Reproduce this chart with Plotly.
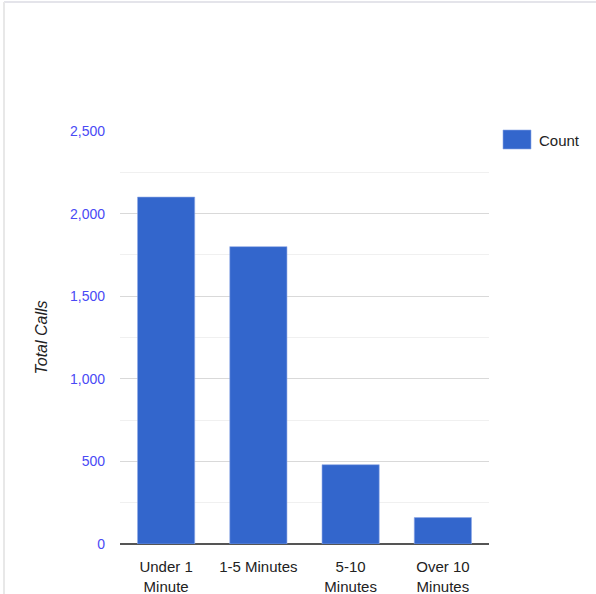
import plotly.graph_objects as go

categories = ["Under 1<br>Minute", "1-5 Minutes", "5-10<br>Minutes", "Over 10<br>Minutes"]
counts = [2100, 1800, 480, 160]
tick_vals = [0, 500, 1000, 1500, 2000, 2500]
tick_text = ["0", "500", "1,000", "1,500", "2,000", "2,500"]
series_name = "Count"

L, R, T, B = 120, 107, 131, 50
W, H = 596, 594
pw = W - L - R
ph = H - T - B

def px(x):
    return (x - L) / pw

def py(y):
    return (H - B - y) / ph

fig = go.Figure()
fig.add_trace(go.Bar(
    x=categories, y=counts, name=series_name,
    marker=dict(color="#3366cc", line=dict(color="#8fa8e6", width=0.6)),
    width=0.62, showlegend=False,
))

fig.update_layout(
    width=W, height=H,
    margin=dict(l=L, r=R, t=T, b=B, autoexpand=False),
    paper_bgcolor="white", plot_bgcolor="white",
    font=dict(family="Liberation Sans, Arial, sans-serif", size=14, color="#222222"),
    showlegend=False,
)
fig.update_xaxes(
    showgrid=False, showline=False, zeroline=False, ticks="",
    tickfont=dict(size=15, color="#222222"),
    ticklabelstandoff=12, automargin=False,
)
fig.update_yaxes(
    range=[0, 2500], tickvals=tick_vals, ticktext=tick_text,
    showgrid=True, gridcolor="#d9d9d9", gridwidth=1,
    minor=dict(dtick=250, showgrid=True, gridcolor="#f0f0f0", gridwidth=1),
    zeroline=True, zerolinecolor="#555555", zerolinewidth=2,
    showline=False, ticks="",
    tickfont=dict(size=14, color="#4a4af5"),
    ticklabelstandoff=14, automargin=False,
    title=dict(text="<i>Total Calls</i>", font=dict(size=16, color="#222222"), standoff=18),
)

# legend (drawn manually to match the wide swatch)
fig.add_shape(type="rect", xref="paper", yref="paper",
              x0=px(503), x1=px(531), y0=py(149), y1=py(130),
              fillcolor="#3366cc", line=dict(color="#8fa8e6", width=0.6))
fig.add_annotation(xref="paper", yref="paper", x=px(537), y=py(140),
                   text=series_name, showarrow=False, xanchor="left", yanchor="middle",
                   font=dict(size=15, color="#222222"))

# outer frame lines (top and left)
fig.add_shape(type="line", xref="paper", yref="paper",
              x0=px(4), x1=px(600), y0=py(2), y1=py(2),
              line=dict(color="#e4e4ea", width=2))
fig.add_shape(type="line", xref="paper", yref="paper",
              x0=px(4), x1=px(4), y0=py(2), y1=py(600),
              line=dict(color="#e8e8e8", width=2))

fig.write_html("out.html")
